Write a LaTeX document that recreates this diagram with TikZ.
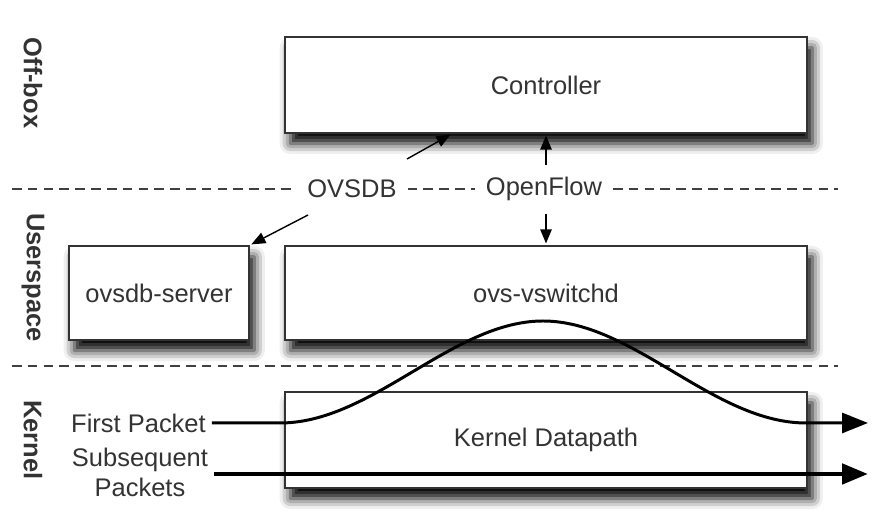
\documentclass[tikz,border=0pt]{standalone}
\usepackage{fontspec}
\setmainfont{Liberation Sans}
\usetikzlibrary{arrows.meta,shadows.blur}

\begin{document}
\begin{tikzpicture}[
  font=\fontsize{14.5}{17.5}\selectfont,
  every node/.style={text=black!80},
  box/.style={draw=black!80, line width=0.9pt, fill=white, minimum height=1.92cm,
    blur shadow={shadow xshift=3pt, shadow yshift=-6pt, shadow blur radius=6pt, shadow opacity=100}},
  layer/.style={font=\fontsize{14.5}{17.5}\selectfont\bfseries, rotate=-90},
  sep/.style={dash pattern=on 5.5pt off 3.5pt, draw=black!75, line width=0.7pt},
  tag/.style={fill=white, inner xsep=0.22cm},
  conn/.style={-{Triangle[length=8pt,width=6.5pt]}, line width=0.8pt, shorten >=1pt},
  pkt/.style={-{Triangle[length=0.52cm,width=0.4cm]}}
]
  \useasboundingbox (0,0) rectangle (17.72,10.46);

  \node[box, minimum width=10.44cm] (ctrl) at (10.92,8.76) {Controller};
  \node[box, minimum width=10.44cm, minimum height=1.88cm] (vswitchd) at (10.92,4.60) {ovs-vswitchd};
  \node[box, minimum width=3.60cm, minimum height=1.88cm] (dbserver) at (3.18,4.60) {ovsdb-server};
  \node[box, minimum width=10.44cm] (datapath) at (10.92,1.66) {Kernel Datapath};

  \draw[sep] (0.24,6.68) -- (16.76,6.68);
  \draw[sep] (0.24,3.14) -- (16.76,3.14);
  \node[tag] (ovsdb) at (7.04,6.68) {OVSDB};
  \node[tag] (openflow) at (10.88,6.68) {OpenFlow};

  \node[layer] (offbox) at (0.66,8.80) {Off-box};
  \node[layer] (userspace) at (0.66,4.91) {Userspace};
  \node[layer] (kernel) at (0.66,1.66) {Kernel};

  \node (first) at (2.77,2.00) {First Packet};
  \node[align=center] (subseq) at (2.80,1.01) {Subsequent\\Packets};

  \coordinate (ovsdbup) at (8.14,7.28);
  \coordinate (ovsdbdown) at (6.16,6.16);
  \draw[conn] (ovsdbup) -- ([xshift=-1.88cm]ctrl.south);
  \draw[conn] (ovsdbdown) -- (dbserver.north east);
  \draw[conn, shorten <=3.5pt] (openflow.north -| ctrl.south) -- (ctrl.south);
  \draw[conn, shorten <=4pt] (openflow.south -| vswitchd.north) -- (vswitchd.north);

  \coordinate (firstout) at (17.36,2.00);
  \coordinate (subseqout) at (17.36,0.98);
  \draw[pkt, line width=1.7pt] (first.east) -- (5.60,2.00)
    .. controls (7.45,2.00) and (9.05,4.04) .. (10.86,4.04)
    .. controls (12.67,4.04) and (14.27,2.00) .. (16.12,2.00) -- (firstout);
  \draw[pkt, line width=2.8pt] (subseq.east |- subseqout) -- (subseqout);
\end{tikzpicture}
\end{document}
